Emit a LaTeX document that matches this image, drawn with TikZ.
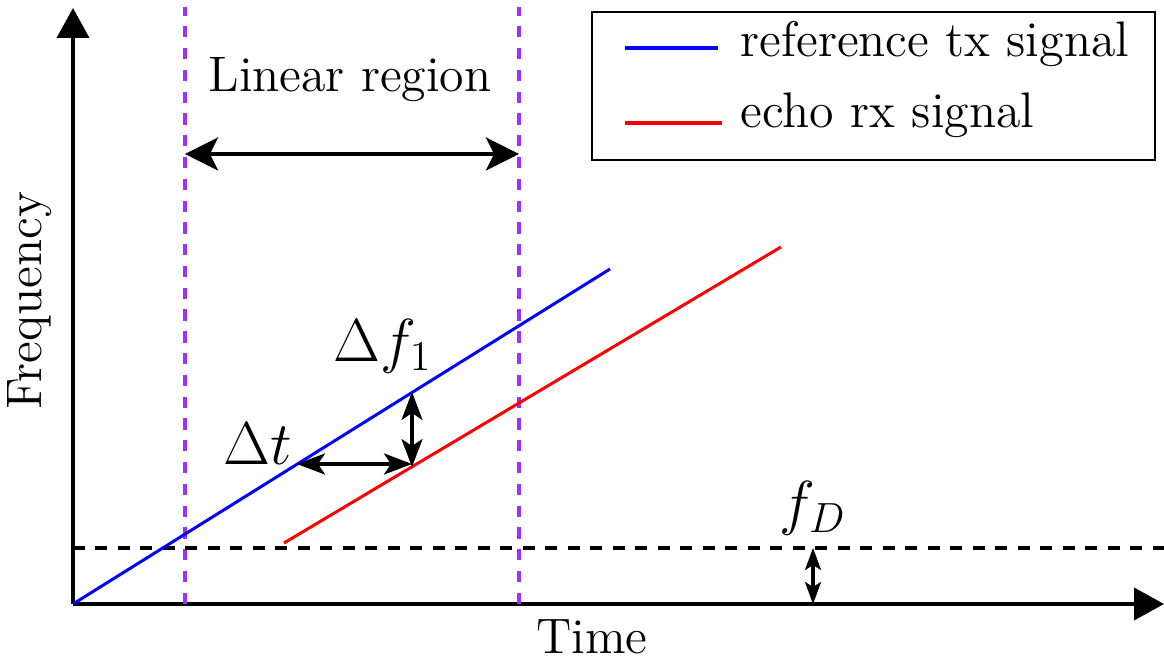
\documentclass[tikz,border=0pt]{standalone}
\usetikzlibrary{arrows.meta}
\definecolor{guidepurple}{HTML}{9B30FF}
\begin{document}
\begin{tikzpicture}[
    axis/.style={line width=1.1pt,-{Triangle[length=0.3cm,width=0.32cm]}},
    guide/.style={guidepurple,line width=0.9pt,dash pattern=on 3.2pt off 3pt},
    dimarrow/.style={line width=0.9pt,{Stealth[length=0.28cm,width=0.21cm,inset=0.07cm]}-{Stealth[length=0.28cm,width=0.21cm,inset=0.07cm]}},
    txt/.style={font=\rmfamily\fontsize{14.2}{17}\selectfont,inner sep=0pt},
    mth/.style={font=\fontsize{16.4}{19}\selectfont,inner sep=0pt}]
  \useasboundingbox (0,0) rectangle (11.64,6.70);
  % axes
  \coordinate (O) at (0.73,0.66);
  \coordinate (ytop) at (0.73,6.62);
  \coordinate (xend) at (11.64,0.66);
  \draw[axis] (O) -- (ytop);
  \draw[axis] (O) -- (xend);
  \node[txt,rotate=90] (freq) at (0.30,3.69) {Frequency};
  \node[txt] (time) at (5.92,0.33) {Time};
  % linear region
  \coordinate (la) at (1.85,0.66);
  \coordinate (lb) at (1.85,6.63);
  \coordinate (ra) at (5.19,0.66);
  \coordinate (rb) at (5.19,6.63);
  \draw[guide] (la) -- (lb);
  \draw[guide] (ra) -- (rb);
  \coordinate (linl) at (1.85,5.16);
  \coordinate (linr) at (5.19,5.16);
  \draw[line width=1pt,{Stealth[length=0.33cm,width=0.33cm,inset=0.08cm]}-{Stealth[length=0.33cm,width=0.33cm,inset=0.08cm]}] (linl) -- (linr);
  \node[txt] (linlab) at (3.50,5.90) {Linear region};
  % doppler level
  \coordinate (fdl) at (0.73,1.22);
  \coordinate (fdr) at (11.64,1.22);
  \draw[line width=1pt,dash pattern=on 3.4pt off 3pt] (fdl) -- (fdr);
  \coordinate (fdt) at (8.13,1.22);
  \coordinate (fdb) at (8.13,0.66);
  \draw[line width=0.9pt,{Stealth[length=0.22cm,width=0.16cm,inset=0.05cm]}-{Stealth[length=0.22cm,width=0.16cm,inset=0.05cm]}] (fdt) -- (fdb);
  \node[mth] (fdlab) at (8.13,1.62) {$f_D$};
  % signals
  \coordinate (txe) at (6.10,4.01);
  \coordinate (rxs) at (2.84,1.27);
  \coordinate (rxe) at (7.81,4.23);
  \draw[blue,line width=0.85pt] (O) -- (txe);
  \draw[red,line width=0.85pt] (rxs) -- (rxe);
  % offsets
  \coordinate (dtl) at (2.97,2.06);
  \coordinate (dtr) at (4.12,2.06);
  \coordinate (dft) at (4.12,2.78);
  \coordinate (dfb) at (4.12,2.03);
  \draw[dimarrow] (dtl) -- (dtr);
  \draw[dimarrow] (dft) -- (dfb);
  \node[mth] (dtlab) at (2.58,2.26) {$\Delta t$};
  \node[mth] (dflab) at (3.83,3.24) {$\Delta f_1$};
  % legend
  \node[draw,line width=0.6pt,minimum width=5.63cm,minimum height=1.48cm,inner sep=0pt] (leg) at (8.735,5.84) {};
  \coordinate (txa) at (6.25,6.22);
  \coordinate (txb) at (7.18,6.22);
  \coordinate (rxa) at (6.25,5.47);
  \coordinate (rxb) at (7.22,5.47);
  \draw[blue,line width=1pt] (txa) -- (txb);
  \draw[red,line width=1pt] (rxa) -- (rxb);
  \node[txt,anchor=base west] (txlab) at (7.40,6.13) {reference tx signal};
  \node[txt,anchor=base west] (rxlab) at (7.40,5.42) {echo rx signal};
\end{tikzpicture}
\end{document}
